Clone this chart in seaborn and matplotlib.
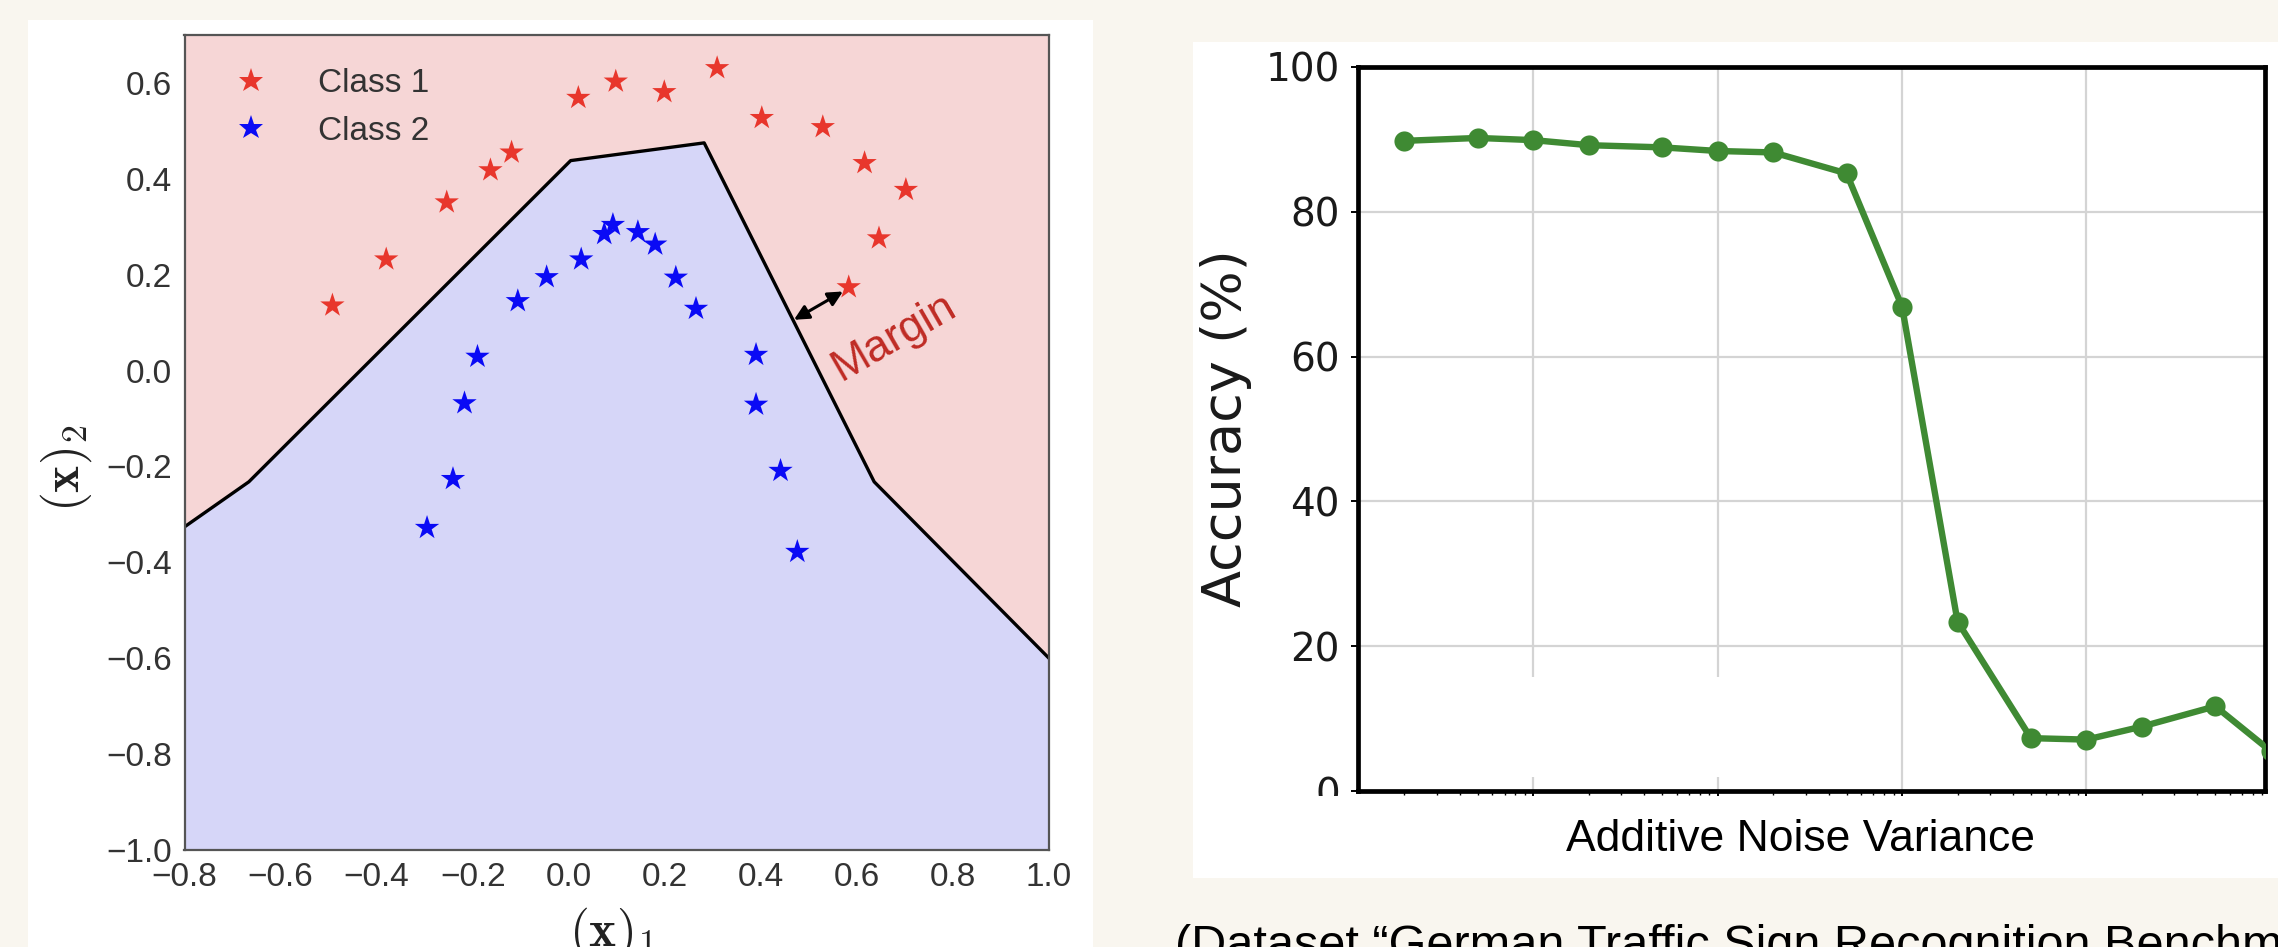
import numpy as np
import pandas as pd
import matplotlib
matplotlib.use("Agg")
import matplotlib.pyplot as plt
from matplotlib.patches import Rectangle
from matplotlib.ticker import NullFormatter, LogLocator
import seaborn as sns

# ---------------- data: left panel (decision boundary) ----------------
class1_x = [-0.492, -0.380, -0.254, -0.163, -0.119, 0.020, 0.098, 0.199, 0.309,
            0.402, 0.529, 0.616, 0.702, 0.646, 0.583]
class1_y = [0.136, 0.232, 0.351, 0.418, 0.455, 0.569, 0.603, 0.581, 0.631,
            0.527, 0.508, 0.433, 0.377, 0.276, 0.174]
class2_x = [-0.295, -0.241, -0.217, -0.190, -0.106, -0.046, 0.026, 0.074, 0.092,
            0.144, 0.180, 0.223, 0.265, 0.390, 0.390, 0.441, 0.476]
class2_y = [-0.328, -0.226, -0.068, 0.029, 0.145, 0.195, 0.232, 0.285, 0.304,
            0.289, 0.263, 0.194, 0.129, 0.033, -0.071, -0.209, -0.378]
boundary_x = [-0.8, -0.666, 0.004, 0.282, 0.636, 1.0]
boundary_y = [-0.326, -0.232, 0.438, 0.475, -0.232, -0.600]
class_labels = ["Class 1", "Class 2"]
left_xticks = [-0.8, -0.6, -0.4, -0.2, 0.0, 0.2, 0.4, 0.6, 0.8, 1.0]
left_yticks = [-1.0, -0.8, -0.6, -0.4, -0.2, 0.0, 0.2, 0.4, 0.6]
margin_start = (0.469, 0.106)
margin_end = (0.571, 0.165)
margin_label = "Margin"

# ---------------- data: right panel (accuracy vs noise) ----------------
noise_variance = [0.2, 0.5, 1, 2, 5, 10, 20, 50, 100, 200, 500, 1000, 2000, 5000, 10000]
accuracy = [89.8, 90.2, 89.9, 89.2, 88.9, 88.4, 88.2, 85.3, 66.9, 23.4, 7.3, 7.1, 8.9, 11.7, 5.5]
acc_yticks = [0, 20, 40, 60, 80, 100]
caption = "(Dataset \u201cGerman Traffic Sign Recognition Benchmark\u201d)"

# ---------------- style ----------------
sns.set_theme(style="white")
plt.rcParams["font.family"] = ["Liberation Sans", "DejaVu Sans"]
plt.rcParams["mathtext.fontset"] = "cm"

W, H = 2278, 947
fig = plt.figure(figsize=(W / 100, H / 100), dpi=100, facecolor="#f9f6ef")


def fx(px):
    return px / W


def fy(py):
    return 1 - py / H


# white panel backgrounds
fig.patches.append(Rectangle((fx(28), 0), fx(1093) - fx(28), fy(20), transform=fig.transFigure,
                             facecolor="white", edgecolor="none", zorder=-1))
fig.patches.append(Rectangle((fx(1193), fy(878)), 1 - fx(1193), fy(42) - fy(878),
                             transform=fig.transFigure, facecolor="white", edgecolor="none", zorder=-1))

# ================= left panel =================
ax1 = fig.add_axes([fx(184.5), fy(850), fx(1049) - fx(184.5), fy(35) - fy(850)])
ax1.set_xlim(-0.8, 1.0)
ax1.set_ylim(-1.0, 0.7)
ax1.fill_between(boundary_x, boundary_y, 0.7, color="#f6d6d6", lw=0, zorder=0)
ax1.fill_between(boundary_x, -1.0, boundary_y, color="#d6d6f8", lw=0, zorder=0)
sns.lineplot(x=boundary_x, y=boundary_y, color="black", lw=2.4, ax=ax1, zorder=2)

pts = pd.DataFrame({
    "x": class1_x + class2_x,
    "y": class1_y + class2_y,
    "cls": [class_labels[0]] * len(class1_x) + [class_labels[1]] * len(class2_x),
})
sns.scatterplot(data=pts, x="x", y="y", hue="cls", hue_order=class_labels,
                palette={class_labels[0]: "#e8362c", class_labels[1]: "#0a0af5"},
                marker="*", s=340, linewidth=0, ax=ax1, zorder=3)

leg = ax1.legend(loc="upper left", frameon=False, fontsize=24, handletextpad=1.0,
                 labelspacing=0.5, borderaxespad=0.6, markerscale=1.0)
for t in leg.get_texts():
    t.set_color("#333333")

ax1.annotate("", xy=margin_end, xytext=margin_start,
             arrowprops=dict(arrowstyle="<|-|>", color="black", lw=2.2, mutation_scale=22,
                             shrinkA=0, shrinkB=0))
ax1.text(0.678, 0.070, margin_label, rotation=30, color="#bf2b24", fontsize=32,
         ha="center", va="center", rotation_mode="anchor")

ax1.set_xticks(left_xticks)
ax1.set_yticks(left_yticks)
ax1.set_xticklabels([f"{v:.1f}".replace("-", "\u2212") for v in left_xticks])
ax1.set_yticklabels([f"{v:.1f}".replace("-", "\u2212") for v in left_yticks])
ax1.tick_params(axis="both", labelsize=24, labelcolor="#333333", length=0, pad=9)
ax1.set_xlabel("")
ax1.set_ylabel("")
for s in ax1.spines.values():
    s.set_color("#555555")
    s.set_linewidth(1.6)
ax1.grid(False)

fig.text(fx(612), fy(905), r"$(\mathbf{x})_1$", fontsize=37, ha="center", va="top", color="#222222")
fig.text(fx(66), fy(468), r"$(\mathbf{x})_2$", fontsize=37, ha="center", va="center",
         rotation=90, color="#222222")

# ================= right panel =================
green = "#3f8a33"
ax2 = fig.add_axes([fx(1358), fy(791), fx(2265) - fx(1358), fy(67) - fy(791)])
ax2.set_xscale("log")
sns.lineplot(x=noise_variance, y=accuracy, color=green, lw=4.6, marker="o",
             markersize=14.5, markeredgewidth=0, ax=ax2, zorder=3)
ax2.set_xlim(0.112, 9300)
ax2.set_ylim(0, 100)
ax2.set_yticks(acc_yticks)
ax2.xaxis.set_major_locator(LogLocator(base=10, numticks=10))
ax2.xaxis.set_minor_locator(LogLocator(base=10, subs=np.arange(2, 10), numticks=20))
ax2.xaxis.set_major_formatter(NullFormatter())
ax2.xaxis.set_minor_formatter(NullFormatter())
ax2.grid(True, which="major", color="#d4d4d4", lw=1.6)
ax2.set_axisbelow(True)
# erased legend area in the original figure
ax2.add_patch(Rectangle((0.112, 1.9), 40, 13.9, facecolor="white", edgecolor="none", zorder=1))
for s in ax2.spines.values():
    s.set_color("black")
    s.set_linewidth(3.4)
ax2.tick_params(axis="both", which="major", direction="out", length=5, width=1.4,
                color="black", labelsize=28, labelcolor="#1a1a1a", pad=8,
                bottom=True, left=True)
ax2.tick_params(axis="x", which="minor", direction="out", length=3, width=1.0,
                color="black", bottom=True)
for lab in ax2.get_yticklabels():
    lab.set_family("DejaVu Sans")
ax2.set_xlabel("")
ax2.set_ylabel("")

# mask: original picture is cropped just under the axis
fig.patches.append(Rectangle((fx(1193), fy(878)), 1 - fx(1193), fy(796) - fy(878),
                             transform=fig.transFigure, facecolor="white", edgecolor="none", zorder=5))
fig.text(fx(1800), fy(851), "Additive Noise Variance", fontsize=32, ha="center", va="baseline",
         color="black", zorder=6)
fig.text(fx(1226), fy(428), "Accuracy (%)", fontsize=39, ha="center", va="center", rotation=90,
         family="DejaVu Sans", color="#1a1a1a")

fig.text(fx(1175), -0.0127, caption, fontsize=35, ha="left", va="baseline", color="black")

fig.savefig("out.png", dpi=100, facecolor=fig.get_facecolor())
